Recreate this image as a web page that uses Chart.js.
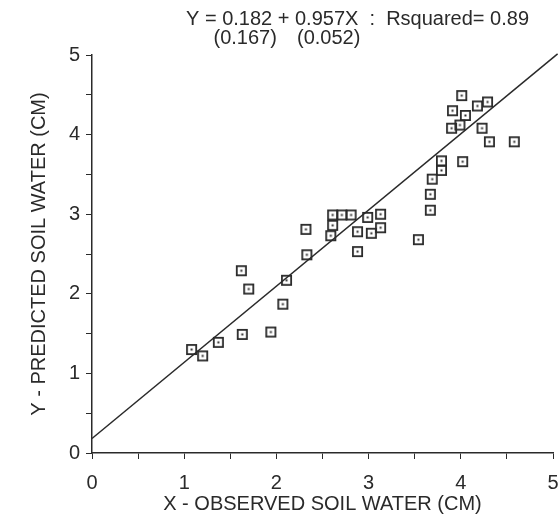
<!DOCTYPE html>
<html>
<head>
<meta charset="utf-8">
<script src="https://cdn.jsdelivr.net/npm/chart.js@4"></script>
<style>
  html, body { margin: 0; padding: 0; background: #fff; }
  #wrap { width: 560px; height: 518px; }
</style>
</head>
<body>
<div id="wrap"><canvas id="soilChart" width="560" height="518"></canvas></div>
<script>
// observed vs predicted soil water (cm)
const observed = [1.08, 1.20, 1.37, 1.63, 1.94, 1.62, 1.70, 2.07, 2.11, 2.32, 2.33,
                  2.59, 2.61, 2.61, 2.71, 2.81, 2.88, 2.88, 2.99, 3.03, 3.13, 3.13, 3.54,
                  3.67, 3.67, 3.69, 3.79, 3.79, 4.02, 3.90, 3.99, 4.05, 3.91, 4.01, 4.18,
                  4.29, 4.23, 4.31, 4.58];
const predicted = [1.30, 1.22, 1.39, 1.49, 1.52, 2.29, 2.06, 1.87, 2.17, 2.81, 2.49,
                   2.73, 2.86, 2.99, 2.99, 2.99, 2.78, 2.53, 2.96, 2.76, 3.00, 2.83, 2.68,
                   3.05, 3.25, 3.44, 3.55, 3.67, 3.66, 4.08, 4.12, 4.24, 4.30, 4.49, 4.36,
                   4.41, 4.08, 3.91, 3.91];

// regression line  Y = 0.182 + 0.957X
const intercept = 0.182;
const slope = 0.957;
const fitX = [0, 5.05];

const eqLine = 'Y = 0.182 + 0.957X  :  Rsquared= 0.89';
const seIntercept = '(0.167)';
const seSlope = '(0.052)';

const ink = '#2a2a2a';
const font = { family: '"Liberation Sans", Arial, sans-serif', size: 20 };

// hollow square with a dot in the middle
const marker = document.createElement('canvas');
marker.width = 13;
marker.height = 13;
const mctx = marker.getContext('2d');
mctx.strokeStyle = ink;
mctx.lineWidth = 1.8;
mctx.strokeRect(1.9, 1.9, 9.2, 9.2);
mctx.fillStyle = ink;
mctx.fillRect(5.5, 5.5, 2, 2);

const points = observed.map((x, i) => ({ x: x, y: predicted[i] }));
const fitLine = fitX.map(x => ({ x: x, y: intercept + slope * x }));

// equation text above the plot, standard errors under the coefficients
const equationText = {
    id: 'equationText',
    afterDraw(chart) {
        const ctx = chart.ctx;
        ctx.save();
        ctx.font = '20px "Liberation Sans", Arial, sans-serif';
        ctx.fillStyle = ink;
        ctx.textBaseline = 'middle';
        ctx.textAlign = 'left';
        const x0 = 186;
        ctx.fillText(eqLine, x0, 19);
        const aStart = x0 + ctx.measureText('Y = ').width;
        const aMid = aStart + ctx.measureText('0.182').width / 2;
        const bStart = x0 + ctx.measureText('Y = 0.182 + ').width;
        const bMid = bStart + ctx.measureText('0.957X').width / 2;
        ctx.textAlign = 'center';
        ctx.fillText(seIntercept, aMid - 2, 38);
        ctx.fillText(seSlope, bMid + 2, 38);
        ctx.restore();
    }
};

const ctx = document.getElementById('soilChart').getContext('2d');
const soilChart = new Chart(ctx, {
    type: 'scatter',
    data: {
        datasets: [{
            data: points,
            pointStyle: marker,
            pointRadius: 6,
            pointHoverRadius: 6
        }, {
            type: 'line',
            data: fitLine,
            borderColor: ink,
            borderWidth: 1.5,
            pointRadius: 0,
            fill: false,
            clip: false
        }]
    },
    options: {
        responsive: false,
        devicePixelRatio: 1,
        animation: false,
        layout: {
            padding: { top: 55, right: 5, left: 0, bottom: 0 }
        },
        scales: {
            x: {
                type: 'linear',
                min: 0,
                max: 5,
                afterFit(scale) {
                    scale.height = 65;
                    scale.paddingRight = 0;
                    scale.paddingLeft = 0;
                },
                ticks: {
                    stepSize: 0.5,
                    color: ink,
                    font: font,
                    padding: 12,
                    maxRotation: 0,
                    autoSkip: false,
                    callback: v => Number.isInteger(v) ? v : ''
                },
                grid: {
                    drawOnChartArea: false,
                    drawTicks: true,
                    tickLength: 6,
                    color: ink
                },
                border: { display: true, color: ink, width: 1.5 },
                title: {
                    display: true,
                    text: 'X - OBSERVED SOIL WATER (CM)',
                    color: ink,
                    font: font,
                    padding: { top: 0, bottom: 2 }
                }
            },
            y: {
                type: 'linear',
                min: 0,
                max: 5,
                afterFit(scale) { scale.width = 92; },
                ticks: {
                    stepSize: 0.5,
                    color: ink,
                    font: font,
                    padding: 6,
                    autoSkip: false,
                    callback: v => Number.isInteger(v) ? v : ''
                },
                grid: {
                    drawOnChartArea: false,
                    drawTicks: true,
                    tickLength: 6,
                    color: ink
                },
                border: { display: true, color: ink, width: 1.5 },
                title: {
                    display: true,
                    text: 'Y - PREDICTED SOIL WATER (CM)',
                    color: ink,
                    font: font,
                    padding: { top: 27, bottom: 0 }
                }
            }
        },
        plugins: {
            legend: { display: false },
            tooltip: { enabled: false }
        }
    },
    plugins: [equationText]
});
</script>
</body>
</html>
